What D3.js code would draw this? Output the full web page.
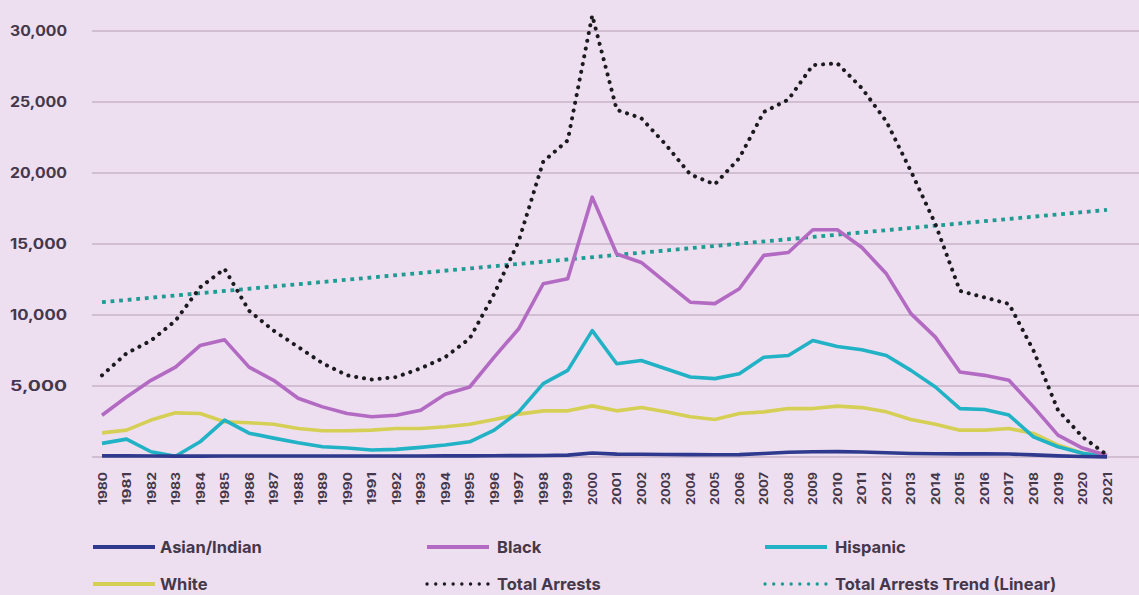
<!DOCTYPE html>
<html>
<head>
<meta charset="utf-8">
<script src="https://cdn.jsdelivr.net/npm/d3@7"></script>
<style>
  html, body { margin: 0; padding: 0; background: #eedff0; }
  svg { display: block; }
  text { font-family: Inter, "Open Sans", sans-serif; font-weight: 700; fill: #45384a; }
</style>
</head>
<body>
<svg id="chart" width="1139" height="595"></svg>
<script>
// Years on the x axis
const years = d3.range(1980, 2022);

// Arrests by group, one value per year 1980–2021
const asianIndian = [80, 80, 70, 60, 60, 70, 70, 70, 70, 70, 70, 70, 70, 70, 80, 80, 90, 100, 110, 130,
  280, 200, 190, 180, 170, 160, 170, 250, 330, 370, 380, 350, 300, 250, 230, 220, 220, 210, 150, 80, 30, 10];
const black = [2940, 4230, 5400, 6330, 7850, 8250, 6330, 5400, 4140, 3530, 3060, 2830, 2940, 3300, 4420, 4930,
  7030, 9030, 12200, 12550, 18300, 14300, 13700, 12300, 10900, 10800, 11850, 14200, 14400, 16000, 16000, 14750,
  12900, 10100, 8440, 5980, 5750, 5400, 3530, 1540, 630, 100];
const hispanic = [960, 1260, 370, 50, 1070, 2600, 1680, 1330, 1000, 720, 630, 490, 540, 680, 840, 1070,
  1890, 3180, 5170, 6100, 8900, 6570, 6800, 6220, 5630, 5520, 5870, 7030, 7150, 8200, 7780, 7550,
  7150, 6100, 4930, 3410, 3340, 2950, 1420, 720, 260, 30];
const white = [1700, 1890, 2600, 3110, 3060, 2480, 2410, 2310, 2010, 1850, 1850, 1890, 2010, 2010, 2130, 2310,
  2640, 3020, 3250, 3250, 3600, 3250, 3480, 3180, 2830, 2640, 3060, 3180, 3410, 3410, 3580, 3480,
  3180, 2640, 2310, 1890, 1890, 2010, 1660, 840, 260, 30];
const totalArrests = [5750, 7300, 8200, 9600, 11950, 13250, 10300, 8900, 7750, 6600, 5750, 5450, 5630, 6240, 7030, 8340,
  11490, 15200, 20800, 22300, 31100, 24450, 23860, 22000, 19900, 19200, 21050, 24300, 25170, 27600, 27720, 25970,
  23630, 20130, 16400, 11700, 11240, 10780, 7500, 3300, 1420, 140];

// Linear trend of total arrests, given by its values at the first and last year
const trendYears = [1980, 2021];
const trendValues = [10900, 17400];

// Value axis ticks
const yTicks = [0, 5000, 10000, 15000, 20000, 25000, 30000];

const svg = d3.select("#chart");

const x = d3.scaleLinear().domain([1980, 2021]).range([102, 1107]);
const y = d3.scaleLinear().domain([0, 30000]).range([457, 31]);

// Horizontal gridlines
svg.append("g")
  .selectAll("line")
  .data(yTicks)
  .join("line")
  .attr("x1", 92)
  .attr("x2", 1139)
  .attr("y1", d => y(d))
  .attr("y2", d => y(d))
  .attr("stroke", "#c7b3c8")
  .attr("stroke-width", 1.5);

// Value axis labels (zero is left unlabelled)
const yAxis = d3.axisLeft(y)
  .tickValues(yTicks.filter(d => d > 0))
  .tickFormat(d3.format(","))
  .tickSize(0)
  .tickPadding(0);
const yG = svg.append("g").attr("transform", "translate(67,0)").call(yAxis);
yG.select(".domain").remove();
yG.selectAll("text")
  .attr("font-size", 14)
  .attr("fill", "#45384a")
  .attr("font-family", "Inter, sans-serif")
  .attr("font-weight", 700)
  .attr("textLength", 57)
  .attr("lengthAdjust", "spacingAndGlyphs");

// Year labels, rotated to read upwards
const xAxis = d3.axisBottom(x)
  .tickValues(years)
  .tickFormat(d => String(d))
  .tickSize(0)
  .tickPadding(0);
const xG = svg.append("g").call(xAxis);
xG.select(".domain").remove();
xG.selectAll(".tick text")
  .attr("font-size", 11.5)
  .attr("font-family", "Inter, sans-serif")
  .attr("font-weight", 800)
  .attr("fill", "#45384a")
  .attr("text-anchor", "end")
  .attr("dy", "0.35em")
  .attr("y", 0)
  .attr("x", 0)
  .attr("textLength", 33)
  .attr("lengthAdjust", "spacingAndGlyphs")
  .attr("transform", "translate(0,472) rotate(-90)");

const line = d3.line()
  .x((d, i) => x(years[i]))
  .y(d => y(d));

const series = [
  { name: "Asian/Indian", values: asianIndian, color: "#2f3a8e" },
  { name: "Black", values: black, color: "#b26ac2" },
  { name: "Hispanic", values: hispanic, color: "#22b2c5" },
  { name: "White", values: white, color: "#d6cf55" }
];

const g = svg.append("g");

// Trend line for total arrests
g.append("path")
  .datum(trendValues)
  .attr("fill", "none")
  .attr("stroke", "#1e9b92")
  .attr("stroke-width", 3.8)
  .attr("stroke-dasharray", "3.8 4.8")
  .attr("d", d3.line().x((d, i) => x(trendYears[i])).y(d => y(d)));

// Group lines
series.slice().reverse().forEach(s => {
  g.append("path")
    .datum(s.values)
    .attr("fill", "none")
    .attr("stroke", s.color)
    .attr("stroke-width", 3.6)
    .attr("stroke-linejoin", "round")
    .attr("d", line);
});

// Total arrests, dotted
g.append("path")
  .datum(totalArrests)
  .attr("fill", "none")
  .attr("stroke", "#1b1a1e")
  .attr("stroke-width", 4)
  .attr("stroke-linecap", "round")
  .attr("stroke-dasharray", "0.1 7.8")
  .attr("d", line);

// Legend
const legendItems = [
  { name: "Asian/Indian", color: "#2f3a8e", dotted: false, x: 93, y: 547 },
  { name: "Black", color: "#b26ac2", dotted: false, x: 427, y: 547 },
  { name: "Hispanic", color: "#22b2c5", dotted: false, x: 765, y: 547 },
  { name: "White", color: "#d6cf55", dotted: false, x: 93, y: 584 },
  { name: "Total Arrests", color: "#1b1a1e", dotted: true, x: 427, y: 584 },
  { name: "Total Arrests Trend (Linear)", color: "#1e9b92", dotted: true, x: 765, y: 584 }
];
const lg = svg.append("g")
  .selectAll("g")
  .data(legendItems)
  .join("g")
  .attr("transform", d => `translate(${d.x},${d.y})`);
lg.append("line")
  .attr("x1", 0).attr("x2", 62)
  .attr("y1", 0).attr("y2", 0)
  .attr("stroke", d => d.color)
  .attr("stroke-width", d => d.dotted ? 3.3 : 3.8)
  .attr("stroke-linecap", d => d.dotted ? "round" : "butt")
  .attr("stroke-dasharray", d => d.dotted ? "0.1 8.6" : null);
lg.append("text")
  .attr("x", d => d.x === 93 ? 67 : 70)
  .attr("y", 0)
  .attr("dy", "0.36em")
  .attr("font-size", 16.5)
  .text(d => d.name);
</script>
</body>
</html>
